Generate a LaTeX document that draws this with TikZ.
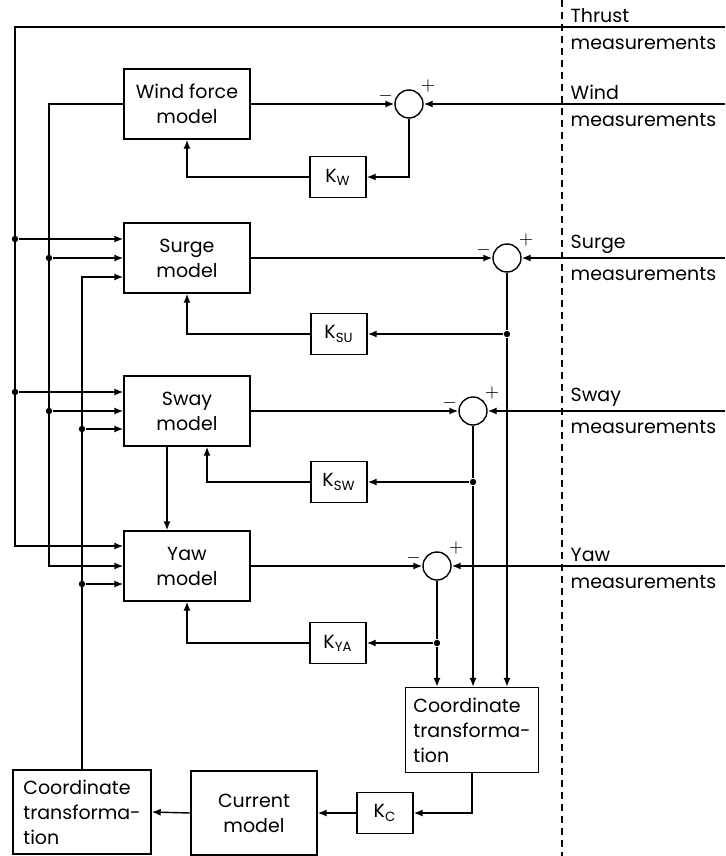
\documentclass[tikz,border=0pt]{standalone}
\usepackage{fontspec}
\setmainfont{Poppins}
\usetikzlibrary{arrows.meta}

\begin{document}
\begin{tikzpicture}[x=0.5pt,y=-0.5pt,line width=0.7pt,>={Latex[length=4.5pt,width=3.5pt]},
  font=\fontsize{9.5}{12.5}\selectfont,
  block/.style={draw,minimum width=63pt,minimum height=35pt,align=center,inner sep=2pt},
  ctbox/.style={draw,minimum height=42.5pt,align=left,inner sep=4pt},
  gain/.style={draw,minimum width=28pt,minimum height=20.5pt,inner sep=1pt},
  sumc/.style={draw,circle,minimum size=14pt,inner sep=0pt},
  dot/.style={circle,fill,inner sep=0pt,minimum size=3.2pt},
  sgn/.style={font=\small,inner sep=0.4pt},
  meas/.style={inner xsep=4pt,inner ysep=2pt},
  measlow/.style={inner xsep=4pt,inner ysep=4.5pt}]
\useasboundingbox (0,0) rectangle (725,856);
\draw[dashed,dash pattern=on 3.5pt off 2.5pt,line width=0.6pt] (562,0) coordinate (dtop) -- (562,856) coordinate (dbot);
\coordinate (busA) at (15,0);
\coordinate (busB) at (49,0);
\coordinate (thrust) at (725,27);
\coordinate (windm) at (725,104);
\coordinate (surgem) at (725,258);
\coordinate (swaym) at (725,411);
\coordinate (yawm) at (725,566);
\node[meas,anchor=south west] (lthr) at (thrust -| dtop) {Thrust};
\node[measlow,anchor=north west] (lthr2) at (thrust -| dtop) {measurements};
\node[meas,anchor=south west] (lwind) at (windm -| dtop) {Wind};
\node[measlow,anchor=north west] (lwind2) at (windm -| dtop) {measurements};
\node[meas,anchor=south west] (lsurge) at (surgem -| dtop) {Surge};
\node[measlow,anchor=north west] (lsurge2) at (surgem -| dtop) {measurements};
\node[meas,anchor=south west] (lsway) at (swaym -| dtop) {Sway};
\node[measlow,anchor=north west] (lsway2) at (swaym -| dtop) {measurements};
\node[meas,anchor=south west] (lyaw) at (yawm -| dtop) {Yaw};
\node[measlow,anchor=north west] (lyaw2) at (yawm -| dtop) {measurements};

\node[block] (wind) at (187,104) {Wind force\\model};
\node[block] (surge) at (187,258) {Surge\\model};
\node[block] (sway) at (187,411) {Sway\\model};
\node[block] (yaw) at (187,566) {Yaw\\model};
\node[sumc] (swind) at (409,104) {};
\node[sumc] (ssurge) at (507,258) {};
\node[sumc] (ssway) at (473,411) {};
\node[sumc] (syaw) at (437,566) {};
\node[gain] (kw) at (338,177) {K\textsubscript{W}};
\node[gain] (ksu) at (339,334) {K\textsubscript{SU}};
\node[gain] (ksw) at (339,482) {K\textsubscript{SW}};
\node[gain] (kya) at (338,643) {K\textsubscript{YA}};
\node[gain] (kc) at (385,813) {K\textsubscript{C}};
\node[ctbox,minimum width=63pt] (ctr) at (472,730) {Coordinate\\transforma-\\tion};
\node[block,minimum height=42pt] (cur) at (254,813) {Current\\model};
\node[ctbox,minimum width=69pt,minimum height=42pt] (ctl) at (82,812) {Coordinate\\transforma-\\tion};

\coordinate (surge1) at ([yshift=9.5pt]surge.west);
\coordinate (surge2) at (surge.west);
\coordinate (surge3) at ([yshift=-9.5pt]surge.west);
\coordinate (sway1) at ([yshift=9.5pt]sway.west);
\coordinate (sway2) at (sway.west);
\coordinate (sway3) at ([yshift=-9pt]sway.west);
\coordinate (yaw1) at ([yshift=10pt]yaw.west);
\coordinate (yaw2) at (yaw.west);
\coordinate (yaw3) at ([yshift=-9pt]yaw.west);

\draw[->] (thrust) -| (yaw1 -| busA) -- (yaw1);
\node[dot] (dA1) at (surge1 -| busA) {};
\node[dot] (dA2) at (sway1 -| busA) {};
\draw[->] (dA1) -- (surge1);
\draw[->] (dA2) -- (sway1);
\draw[->] (wind.west) -| (yaw2 -| busB) -- (yaw2);
\node[dot] (dB1) at (surge2 -| busB) {};
\node[dot] (dB2) at (sway2 -| busB) {};
\draw[->] (dB1) -- (surge2);
\draw[->] (dB2) -- (sway2);
\draw[->] (ctl.north) |- (surge3);
\node[dot] (dC1) at (sway3 -| ctl.north) {};
\node[dot] (dC2) at (yaw3 -| ctl.north) {};
\draw[->] (dC1) -- (sway3);
\draw[->] (dC2) -- (yaw3);

\draw[->] (wind.east) -- (swind.west);
\draw[->] (windm) -- (swind.east);
\draw[->] (swind.south) |- (kw.east);
\draw[->] (kw.west) -| (wind.south);
\node[sgn,anchor=south east] at (swind.west) {$-$};
\node[sgn,anchor=south west] at (swind.north east) {$+$};

\draw[->] (surge.east) -- (ssurge.west);
\draw[->] (surgem) -- (ssurge.east);
\node[dot] (dsu) at (ssurge |- ksu) {};
\draw (ssurge.south) -- (dsu);
\draw[->] (dsu) -- (ksu.east);
\draw[->] (ksu.west) -| (surge.south);
\draw[->] (dsu) -- (dsu |- ctr.north);
\node[sgn,anchor=south east] at (ssurge.west) {$-$};
\node[sgn,anchor=south west] at (ssurge.north east) {$+$};

\draw[->] (sway.east) -- (ssway.west);
\draw[->] (swaym) -- (ssway.east);
\node[dot] (dsw) at (ssway |- ksw) {};
\draw (ssway.south) -- (dsw);
\draw[->] (dsw) -- (ksw.east);
\draw[->] (ksw.west) -| ([xshift=10pt]sway.south);
\draw[->] (dsw) -- (dsw |- ctr.north);
\draw[->] ([xshift=-10pt]sway.south) -- ([xshift=-10pt]yaw.north);
\node[sgn,anchor=south east] at (ssway.west) {$-$};
\node[sgn,anchor=south west] at (ssway.north east) {$+$};

\draw[->] (yaw.east) -- (syaw.west);
\draw[->] (yawm) -- (syaw.east);
\node[dot] (dya) at (syaw |- kya) {};
\draw (syaw.south) -- (dya);
\draw[->] (dya) -- (kya.east);
\draw[->] (kya.west) -| (yaw.south);
\draw[->] (dya) -- (dya |- ctr.north);
\node[sgn,anchor=south east] at (syaw.west) {$-$};
\node[sgn,anchor=south west] at (syaw.north east) {$+$};

\draw[->] (ctr.south) |- (kc.east);
\draw[->] (kc.west) -- (cur.east);
\draw[->] (cur.west) -- (ctl.east);
\end{tikzpicture}
\end{document}
